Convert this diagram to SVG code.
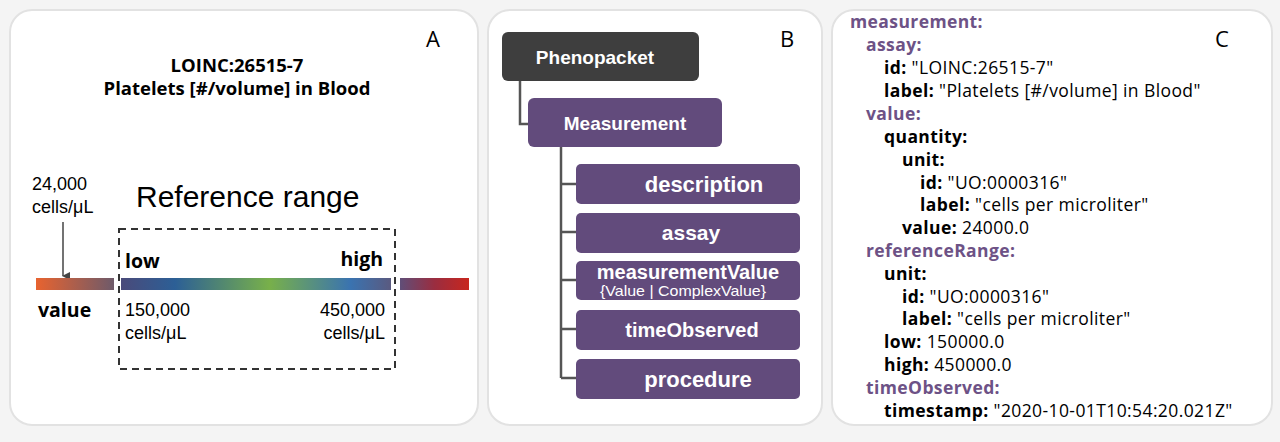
<svg xmlns="http://www.w3.org/2000/svg" width="1280" height="442" viewBox="0 0 1280 442">
<style>
.panel{fill:#fff;stroke:#e2e2e2;stroke-width:2}
.b{font-family:"Open Sans","Noto Sans",sans-serif;font-weight:bold}
.r{font-family:"Liberation Sans",Arial,sans-serif}
.node{fill:#624b7c}
.nt{font-family:"Liberation Sans",Arial,sans-serif;font-weight:bold;fill:#fff;font-size:19px;text-anchor:middle}
.k{font-family:"Open Sans","Noto Sans",sans-serif;font-weight:bold;font-size:17.5px;fill:#000;letter-spacing:0.4px}
.p{fill:#6d5286}
.v{font-weight:normal}
.lbl{font-family:"Open Sans","Noto Sans",sans-serif;font-size:22px}
</style>
<defs>
<linearGradient id="g1"><stop offset="0" stop-color="#e8632f"/><stop offset="1" stop-color="#6e5a6a"/></linearGradient>
<linearGradient id="g2"><stop offset="0" stop-color="#4a4a7a"/><stop offset="0.2" stop-color="#2c5f96"/><stop offset="0.55" stop-color="#78b04a"/><stop offset="0.85" stop-color="#3a73b0"/><stop offset="1" stop-color="#5a5a80"/></linearGradient>
<linearGradient id="g3"><stop offset="0" stop-color="#604e78"/><stop offset="0.5" stop-color="#9a2d40"/><stop offset="1" stop-color="#c8261e"/></linearGradient>
<marker id="ar" markerWidth="8" markerHeight="8" refX="4" refY="7" orient="auto" markerUnits="userSpaceOnUse"><path d="M0,0 L4,8 L8,0 Z" fill="#444"/></marker>
</defs>
<rect width="1280" height="442" fill="#f4f4f4"/>
<rect class="panel" x="10" y="10" width="468" height="415" rx="22"/>
<rect class="panel" x="488" y="10" width="334" height="415" rx="22"/>
<rect class="panel" x="832" y="10" width="440" height="415" rx="22"/>

<g id="panelA">
<text x="433" y="47" class="lbl" text-anchor="middle">A</text>
<text x="237" y="72" class="b" font-size="18.5" text-anchor="middle">LOINC:26515-7</text>
<text x="237" y="95" class="b" font-size="18.5" text-anchor="middle">Platelets [#/volume] in Blood</text>
<text x="136" y="207" class="r" font-size="30">Reference range</text>
<text x="32" y="190" class="r" font-size="18">24,000</text>
<text x="32" y="213" class="r" font-size="18">cells/μL</text>
<line x1="63" y1="222" x2="63" y2="276" stroke="#444" stroke-width="1.5" marker-end="url(#ar)"/>
<rect x="36" y="278" width="78" height="12" fill="url(#g1)"/>
<rect x="121" y="278" width="270" height="12" fill="url(#g2)"/>
<rect x="400" y="278" width="69" height="12" fill="url(#g3)"/>
<rect x="119" y="229" width="276" height="140" fill="none" stroke="#333" stroke-width="2" stroke-dasharray="7,5"/>
<text x="125" y="268" class="b" font-size="19.5">low</text>
<text x="383" y="266" class="b" font-size="19.5" text-anchor="end">high</text>
<text x="38" y="317" class="b" font-size="19.5">value</text>
<text x="125" y="316" class="r" font-size="18">150,000</text>
<text x="125" y="339" class="r" font-size="18">cells/μL</text>
<text x="385" y="316" class="r" font-size="18" text-anchor="end">450,000</text>
<text x="385" y="339" class="r" font-size="18" text-anchor="end">cells/μL</text>
</g>

<text x="787" y="47" class="lbl" text-anchor="middle">B</text>
<g id="connectors" fill="none" stroke="#555" stroke-width="2.5">
<path d="M520,81 V124 H528"/>
<path d="M561,147 V378"/>
<path d="M561,184 H576 M561,232 H576 M561,280 H576 M561,329 H576 M561,378 H576"/>
</g>
<g id="phenopacket"><rect x="502" y="32" width="197" height="49" rx="6" fill="#3e3e3e"/><text x="595" y="64" class="nt">Phenopacket</text></g>
<g id="measurement"><rect x="528" y="98" width="194" height="49" rx="6" class="node"/><text x="625" y="130" class="nt" font-size="20">Measurement</text></g>
<g id="description"><rect x="576" y="164" width="224" height="40" rx="5" class="node"/><text x="704" y="192" class="nt" style="font-size:22px">description</text></g>
<g id="assay"><rect x="576" y="213" width="224" height="40" rx="5" class="node"/><text x="691" y="240" class="nt" style="font-size:21px">assay</text></g>
<g id="measurementValue"><rect x="576" y="261" width="224" height="39" rx="5" class="node"/><text x="688" y="279" class="nt" style="font-size:20px">measurementValue</text><text x="683" y="296" text-anchor="middle" fill="#fff" font-size="15" font-family="Liberation Sans,Arial,sans-serif" textLength="166" lengthAdjust="spacingAndGlyphs">{Value | ComplexValue}</text></g>
<g id="timeObserved"><rect x="576" y="310" width="224" height="40" rx="5" class="node"/><text x="692" y="337" class="nt" style="font-size:20px">timeObserved</text></g>
<g id="procedure"><rect x="576" y="359" width="224" height="40" rx="5" class="node"/><text x="698" y="387" class="nt" style="font-size:22px">procedure</text></g>

<g id="panelC" class="k">
<text x="1222" y="47" class="lbl" style="font-weight:normal;letter-spacing:0" text-anchor="middle">C</text>
<text x="850" y="28" class="p">measurement:</text>
<text x="866" y="51" class="p">assay:</text>
<text x="884" y="74">id: <tspan class="v">"LOINC:26515-7"</tspan></text>
<text x="884" y="97">label: <tspan class="v">"Platelets [#/volume] in Blood"</tspan></text>
<text x="866" y="120" class="p">value:</text>
<text x="884" y="143">quantity:</text>
<text x="902" y="166">unit:</text>
<text x="920" y="189">id: <tspan class="v">"UO:0000316"</tspan></text>
<text x="920" y="211">label: <tspan class="v">"cells per microliter"</tspan></text>
<text x="902" y="234">value: <tspan class="v">24000.0</tspan></text>
<text x="866" y="257" class="p">referenceRange:</text>
<text x="884" y="280">unit:</text>
<text x="902" y="303">id: <tspan class="v">"UO:0000316"</tspan></text>
<text x="902" y="325">label: <tspan class="v">"cells per microliter"</tspan></text>
<text x="884" y="348">low: <tspan class="v">150000.0</tspan></text>
<text x="884" y="371">high: <tspan class="v">450000.0</tspan></text>
<text x="866" y="394" class="p">timeObserved:</text>
<text x="884" y="417">timestamp: <tspan class="v">"2020-10-01T10:54:20.021Z"</tspan></text>
</g>
</svg>
